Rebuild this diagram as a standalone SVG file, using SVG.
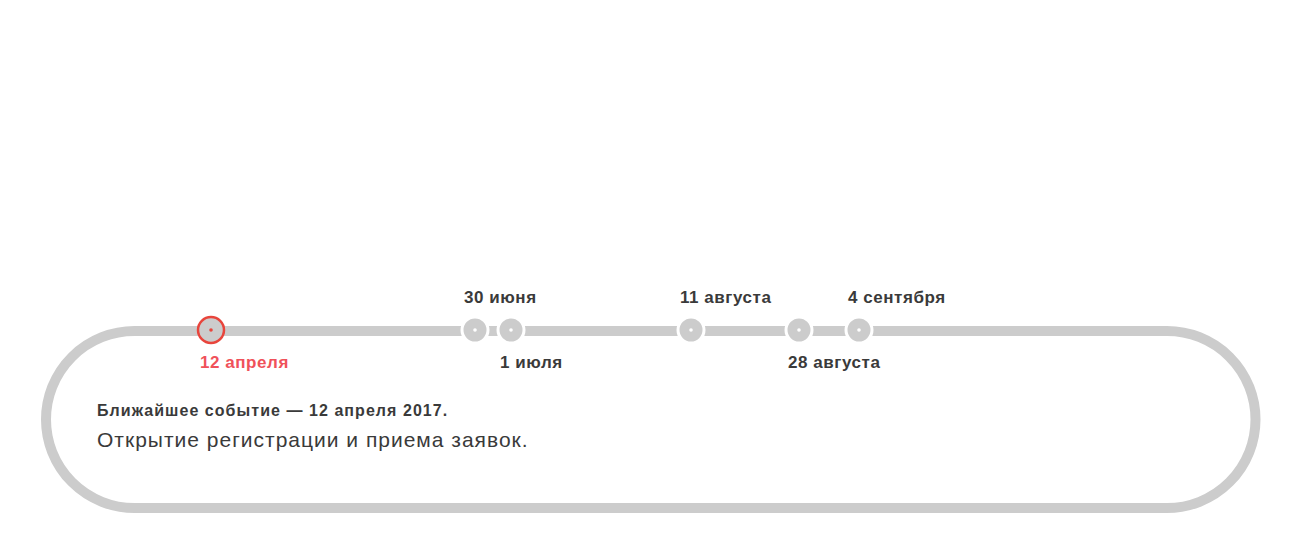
<svg xmlns="http://www.w3.org/2000/svg" width="1300" height="540" viewBox="0 0 1300 540">
<style>
.track{fill:none;stroke:#cccccc;stroke-width:10}
.dot{fill:#cccccc;stroke:#ffffff;stroke-width:3}
.pip{fill:#ffffff}
.lbl{font-family:"Liberation Sans",Arial,sans-serif;font-weight:bold;font-size:17px;letter-spacing:0.55px;fill:#3a3a3a}
.red{fill:#f0515a}
.t1{font-family:"Liberation Sans",Arial,sans-serif;font-weight:bold;font-size:16px;letter-spacing:1.05px;fill:#3a3a3a}
.t2{font-family:"Liberation Sans",Arial,sans-serif;font-size:21px;letter-spacing:1px;fill:#3a3a3a}
</style>
<g id="connectors">
<rect class="track" x="46" y="331" width="1209.5" height="177" rx="88.5" ry="88.5"/>
</g>
<g id="n-apr12">
<circle cx="211" cy="330" r="13" fill="#cccccc" stroke="#e8453c" stroke-width="2.5"/>
<circle cx="211" cy="330" r="1.8" fill="#e8453c"/>
<text class="lbl red" x="200" y="368">12 апреля</text>
</g>
<g id="n-jun30">
<circle class="dot" cx="475" cy="330" r="13"/>
<circle class="pip" cx="475" cy="330" r="1.8"/>
<text class="lbl" x="464" y="303">30 июня</text>
</g>
<g id="n-jul1">
<circle class="dot" cx="511" cy="330" r="13"/>
<circle class="pip" cx="511" cy="330" r="1.8"/>
<text class="lbl" x="500" y="368">1 июля</text>
</g>
<g id="n-aug11">
<circle class="dot" cx="691" cy="330" r="13"/>
<circle class="pip" cx="691" cy="330" r="1.8"/>
<text class="lbl" x="680" y="303">11 августа</text>
</g>
<g id="n-aug28">
<circle class="dot" cx="799" cy="330" r="13"/>
<circle class="pip" cx="799" cy="330" r="1.8"/>
<text class="lbl" x="788" y="368">28 августа</text>
</g>
<g id="n-sep4">
<circle class="dot" cx="859" cy="330" r="13"/>
<circle class="pip" cx="859" cy="330" r="1.8"/>
<text class="lbl" x="848" y="303">4 сентября</text>
</g>
<g id="info">
<text class="t1" x="97" y="416">Ближайшее событие — 12 апреля 2017.</text>
<text class="t2" x="97" y="447">Открытие регистрации и приема заявок.</text>
</g>
</svg>
